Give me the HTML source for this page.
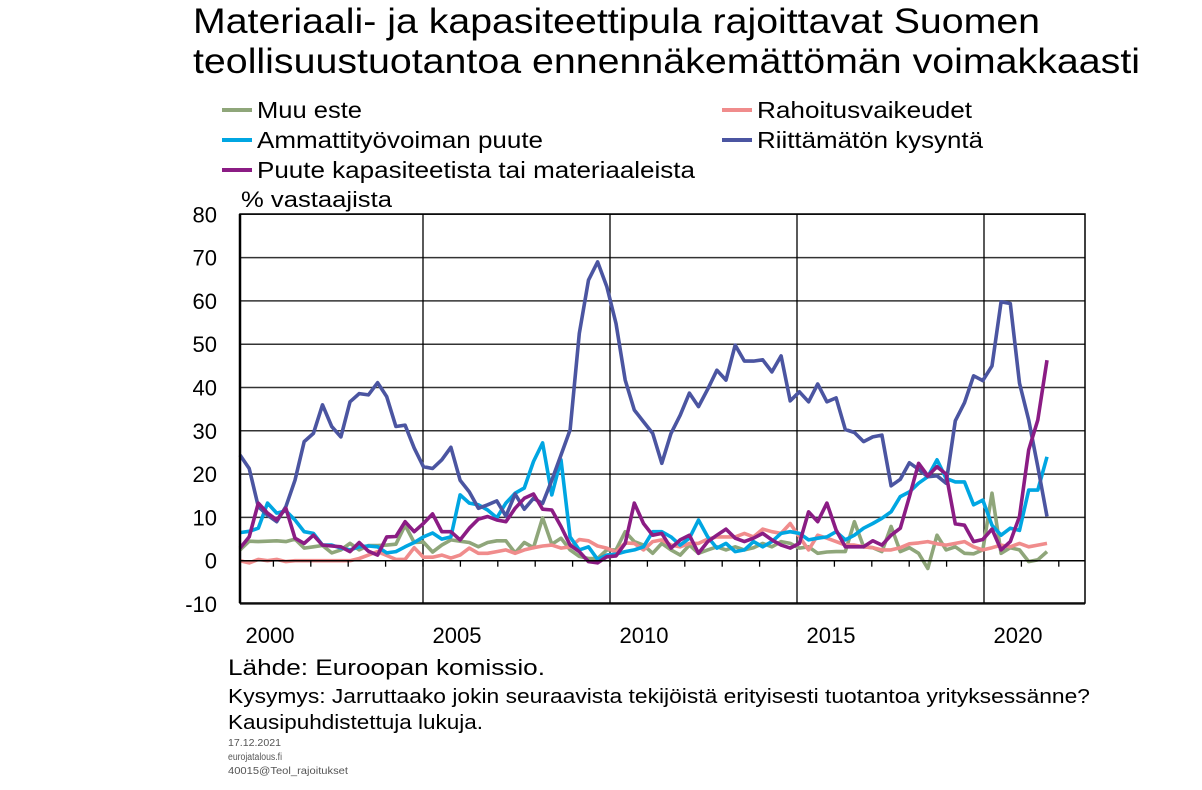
<!DOCTYPE html>
<html><head><meta charset="utf-8"><style>
body{margin:0;background:#fff;width:1202px;height:785px;overflow:hidden;font-family:"Liberation Sans",sans-serif;}
svg text{font-family:"Liberation Sans",sans-serif;}
</style></head><body>
<svg id="c" width="1202" height="785" xmlns="http://www.w3.org/2000/svg">
<text x="193" y="33" font-size="35" textLength="847" lengthAdjust="spacingAndGlyphs" fill="#000">Materiaali- ja kapasiteettipula rajoittavat Suomen</text>
<text x="193" y="73" font-size="35" textLength="947" lengthAdjust="spacingAndGlyphs" fill="#000">teollisuustuotantoa ennennäkemättömän voimakkaasti</text>
<g id="legend"></g>
<text x="241" y="207" font-size="22" textLength="151" lengthAdjust="spacingAndGlyphs">% vastaajista</text>
<g id="grid"></g><g id="series"></g><g id="axes"></g>
<text x="228" y="675" font-size="22" textLength="317" lengthAdjust="spacingAndGlyphs">Lähde: Euroopan komissio.</text>
<text x="228" y="703" font-size="20" textLength="862" lengthAdjust="spacingAndGlyphs">Kysymys: Jarruttaako jokin seuraavista tekijöistä erityisesti tuotantoa yrityksessänne?</text>
<text x="228" y="729" font-size="20" textLength="255" lengthAdjust="spacingAndGlyphs">Kausipuhdistettuja lukuja.</text>
<text x="228" y="746" font-size="10" textLength="53" lengthAdjust="spacingAndGlyphs" fill="#555">17.12.2021</text>
<text x="228" y="760" font-size="10" textLength="54" lengthAdjust="spacingAndGlyphs" fill="#555">eurojatalous.fi</text>
<text x="228" y="774" font-size="10" textLength="120" lengthAdjust="spacingAndGlyphs" fill="#555">40015@Teol_rajoitukset</text>
</svg>
<script>
const yTicks=[80,70,60,50,40,30,20,10,0,-10];
const xYears=[2000,2005,2010,2015,2020];
const seriesNames=["Muu este","Rahoitusvaikeudet","Ammattityövoiman puute","Riittämätön kysyntä","Puute kapasiteetista tai materiaaleista"];
const muuEste=[2.5,4.5,4.4,4.5,4.6,4.4,5,2.9,3.2,3.5,1.8,2.5,4,2.5,3.5,3.5,3.6,3.8,8.2,4.2,4.3,2,3.6,4.8,
4.5,4.2,3.2,4.2,4.6,4.6,1.8,4.2,3,9.9,3.8,5.2,2.5,1,0.5,0.5,2.5,2.5,6.7,4.4,3.6,
1.7,4,2.5,1.3,3.6,1.7,2.5,3.2,2.5,3.2,2.5,3,4,3.2,4.4,4,2.9,3.2,1.7,2,
2.1,2.1,9,3.2,3,2.1,7.9,2.1,3,1.7,-1.8,5.9,2.5,3.2,1.7,1.6,2.5,15.6,1.7,3,2.5,-0.2,0.2,2.1];
const rahoitus=[0,-0.5,0.3,0,0.3,-0.2,0,0,0,0,0,0,0,0.5,1.3,2.1,1.2,0.3,0.3,3,0.8,0.8,1.3,0.6,
1.3,2.9,1.7,1.7,2.1,2.5,1.7,2.5,3,3.4,3.6,2.9,3.2,4.9,4.6,3.4,2.9,2,4.1,4,2.5,
4.4,4.8,3.6,3.2,4,4,5,5.5,5.5,5.5,6.3,5.5,7.3,6.7,6.3,8.6,5.5,2.5,5.9,5.2,
4.4,3.6,3.6,3.2,3,2.5,2.5,3,3.9,4.1,4.4,3.9,3.6,4,4.4,3.2,2.5,3,3.6,3.2,4,3.2,3.6,4];
const ammatti=[6.5,6.8,7.5,13.3,11,11.5,9.4,6.7,6.3,3.6,3.6,2.9,2.5,3.2,3.4,3.2,1.8,2.1,3.2,4.2,5.5,6.4,5,5.5,
15.2,13.3,12.9,11.7,9.9,13.3,15.6,16.8,22.9,27.2,15.2,23.3,5.5,2.5,3.2,0.3,1.3,1.5,2.1,2.5,3.2,
6.7,6.7,5.5,3.6,5.2,9.4,5.5,2.9,4,2.1,2.5,4.4,3.2,4.4,6.3,6.7,6.3,4.8,5.2,5.5,
6.7,4.8,5.9,7.5,8.6,9.8,11.3,14.8,15.9,17.9,19.4,23.3,19,18.2,18.2,12.9,14,8.2,5.9,7.5,7,16.3,16.3,24];
const kysynta=[24.4,21.3,12.5,10.5,9,12.5,18.6,27.5,29.4,36,31,28.6,36.7,38.6,38.3,41.1,37.9,31,31.3,26,21.7,21.3,23.3,26.2,18.6,15.9,12.1,12.9,13.8,10.3,15.4,11.9,
14.4,13.2,18.6,24.4,30.2,52.5,64.8,69,63.3,54.8,41.7,34.8,32.1,29.4,22.5,29.4,33.6,38.7,35.6,39.6,44,41.7,49.8,46.1,46.1,46.4,43.6,47.3,36.9,
39,36.7,40.8,36.7,37.6,30.3,29.6,27.5,28.6,29,17.3,18.8,22.6,21.1,19.4,19.6,17.9,32.3,36.5,42.7,41.6,45,59.8,59.4,41,32.5,21.7,10.2];
const kapasiteetti=[2.9,5.5,13.3,11,9.4,12.1,5.2,4,5.9,3.6,3.4,3.2,2.1,4.2,2.2,1.3,5.5,5.6,9,6.7,8.6,10.8,
6.7,6.7,4.8,7.5,9.6,10.2,9.4,9,12.1,14.4,15.4,11.9,11.7,7.9,3.6,2.1,-0.2,-0.5,0.9,1.1,4,13.3,8.6,
5.9,6.3,2.9,4.8,5.9,1.7,4.4,5.9,7.3,5.2,4.4,5.2,6.3,4.8,3.6,2.9,4,11.3,9,13.3,
7.1,3.2,3.2,3.2,4.6,3.6,5.9,7.5,14.8,22.5,19.6,21.7,20,8.5,8.2,4.4,4.9,7.3,2.5,4.4,10.2,25.6,32.5,46.3];

const NS="http://www.w3.org/2000/svg";
const L=240,R=1085,T=214,B=603;
const y=v=>560.7-v*4.33;
const xYear=yr=>236+(yr-2000)*37.4;
const N=kysynta.length;
const xi=i=>240+i*(1047-240)/(N-1);
function mk(tag,attrs,parent){const e=document.createElementNS(NS,tag);for(const k in attrs)e.setAttribute(k,attrs[k]);parent.appendChild(e);return e;}
const grid=document.getElementById('grid'),axes=document.getElementById('axes'),ser=document.getElementById('series'),leg=document.getElementById('legend');
yTicks.forEach(v=>{
  const ln=mk('line',{x1:L,x2:R,y1:y(v),y2:y(v),stroke:'#333','stroke-width':1.5},grid);
  
  
  const t=mk('text',{x:217,y:y(v)+8,'font-size':22,'text-anchor':'end'},axes);t.textContent=v;
  
  
});
for(let yr=2005;yr<=2020;yr+=5){
  const ln=mk('line',{x1:xYear(yr),x2:xYear(yr),y1:T,y2:B,stroke:'#000','stroke-width':1.3},grid);
  
  
}
for(let yr=2001;yr<=2022;yr++){
  const tk=mk('line',{x1:xYear(yr),x2:xYear(yr),y1:y(0),y2:y(0)+6,stroke:'#000','stroke-width':1.3},axes);
  
  
}
xYears.forEach(yr=>{
  const t=mk('text',{x:xYear(yr)+34,y:643,'font-size':22,'text-anchor':'middle'},axes);t.textContent=yr;
  
  
});
const zl=mk('line',{x1:L,x2:R,y1:y(0),y2:y(0),stroke:'#000','stroke-width':1.5},axes);


const fr=mk('rect',{x:L,y:T,width:R-L,height:B-T,fill:'none',stroke:'#000','stroke-width':1.5},axes);


const ya=mk('line',{x1:L,x2:L,y1:T,y2:B,stroke:'#000','stroke-width':2.5},axes);



const defs=[[muuEste,'#8FA67A','series-muu-este'],[rahoitus,'#F08C8C','series-rahoitusvaikeudet'],[ammatti,'#00A6E2','series-ammattityovoiman-puute'],[kysynta,'#4B55A1','series-riittamaton-kysynta'],[kapasiteetti,'#8B1C84','series-puute-kapasiteetista']];
[0,1,2,3,4].forEach(k=>{
  const [d,c,n]=defs[k];
  const p=mk('polyline',{points:d.map((v,i)=>xi(i).toFixed(1)+','+y(v).toFixed(1)).join(' '),fill:'none',stroke:c,'stroke-width':3.6,'stroke-linejoin':'round'},ser);
  
  
});
const legPos=[[222,110],[722,110],[222,140],[722,140],[222,170]];
const legW=[105,215,286,226,438];
legPos.forEach(([lx,ly],k)=>{
  const g=mk('g',{},leg);
  
  
  mk('line',{x1:lx,x2:lx+30,y1:ly,y2:ly,stroke:defs[k][1],'stroke-width':4},g);
  const t=mk('text',{x:lx+35,y:ly+8,'font-size':23,textLength:legW[k],lengthAdjust:'spacingAndGlyphs'},g);t.textContent=seriesNames[k];
});
</script>
</body></html>
